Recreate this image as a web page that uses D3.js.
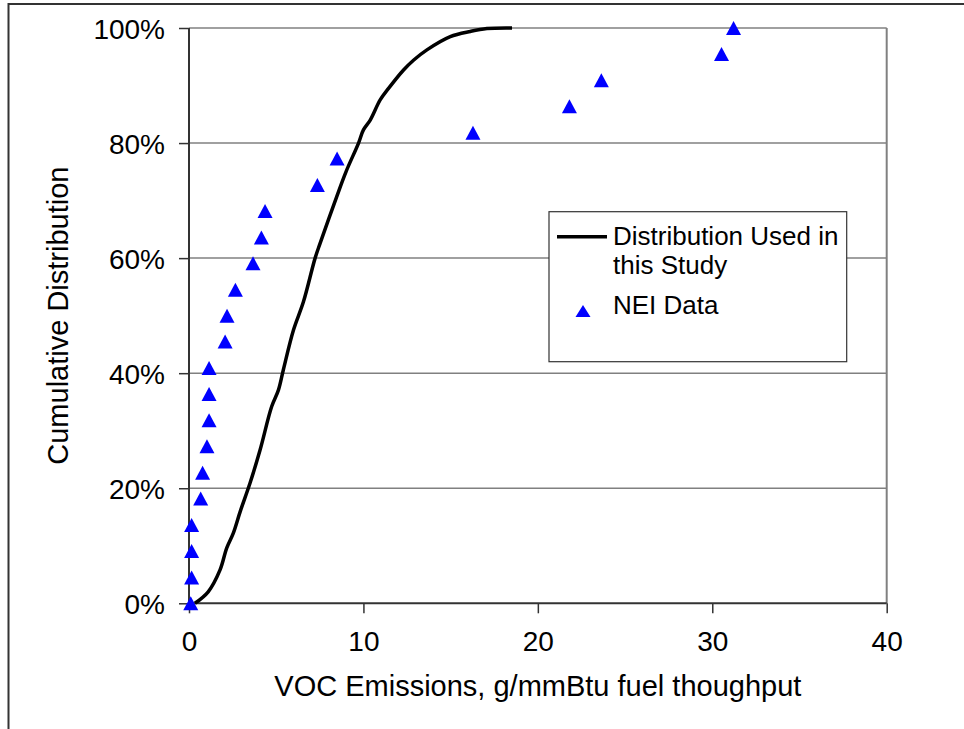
<!DOCTYPE html>
<html><head><meta charset="utf-8">
<script src="https://cdn.jsdelivr.net/npm/d3@7"></script>
<style>body{margin:0;background:#fff}svg{display:block}text{font-family:"Liberation Sans",Arial,sans-serif;fill:#000}</style>
</head><body><svg id="c" width="964" height="729"></svg>
<script>
const xTicks = [0, 10, 20, 30, 40];
const yTicks = [0, 0.2, 0.4, 0.6, 0.8, 1.0];
const curveX = [0.34,1.1,1.78,2.16,2.54,2.93,3.5,4.07,4.74,5.13,5.41,5.99,6.56,7.23,7.52,8.47,9.0,9.72,10.0,10.39,10.96,11.44,12.3,12.87,13.64,14.98,16.13,17.08,18.52];
const curveY = [0,0.02,0.058,0.096,0.122,0.159,0.209,0.266,0.342,0.371,0.406,0.475,0.524,0.60,0.626,0.707,0.75,0.80,0.823,0.84,0.875,0.895,0.927,0.944,0.962,0.985,0.994,0.999,1.0];
const neiX = [0.1,0.15,0.15,0.15,0.67,0.78,1.03,1.15,1.15,1.15,2.07,2.18,2.66,3.67,4.15,4.36,7.36,8.49,16.28,21.81,23.64,30.53,31.22];
const neiY = [0,0.045,0.091,0.136,0.182,0.227,0.273,0.318,0.364,0.409,0.455,0.50,0.545,0.591,0.636,0.682,0.727,0.773,0.818,0.864,0.909,0.955,1.0];
const legendLabels = ["Distribution Used in", "this Study", "NEI Data"];
const xTitle = "VOC Emissions, g/mmBtu fuel thoughput";
const yTitle = "Cumulative Distribution";

const svg = d3.select("#c");
const L = 189, R = 886.7, T = 28, B = 603.3;
const x = d3.scaleLinear().domain([0, 40]).range([L, R]);
const y = d3.scaleLinear().domain([0, 1]).range([B, T]);

// outer frame
svg.append("path").attr("d", `M8.5,729 V4 H964`).attr("fill","none").attr("stroke","#333").attr("stroke-width",2);

// gridlines
svg.append("g").selectAll("line").data(yTicks.filter(d=>d>0)).join("line")
  .attr("x1", L).attr("x2", R).attr("y1", d=>y(d)).attr("y2", d=>y(d))
  .attr("stroke","#808080").attr("stroke-width",1.5);
svg.append("line").attr("x1",R).attr("x2",R).attr("y1",T).attr("y2",B).attr("stroke","#808080").attr("stroke-width",2);

// axes
const xAxis = d3.axisBottom(x).tickValues(xTicks).tickSize(10).tickPadding(18).tickFormat(d3.format("d"));
const gx = svg.append("g").attr("transform",`translate(0,${B})`).call(xAxis);
const yAxis = d3.axisLeft(y).tickValues(yTicks).tickSize(10).tickPadding(14).tickFormat(d3.format(".0%"));
const gy = svg.append("g").attr("transform",`translate(${L},0)`).call(yAxis);
[gx, gy].forEach(g => {
  g.select(".domain").attr("stroke","#333").attr("stroke-width",2);
  g.selectAll(".tick line").attr("stroke","#333").attr("stroke-width",1.5);
  g.selectAll("text").attr("font-size",28).attr("font-family","Liberation Sans, Arial, sans-serif").attr("fill","#000");
});
gx.selectAll(".tick text").attr("dy","0.71em");
gy.selectAll(".tick text").attr("dy","0.36em");
gx.select(".domain").attr("d", `M${L},0H${R}`);
gy.select(".domain").attr("d", `M0,${B}V${T}`);

// curve
const line = d3.line().x(d=>x(d[0])).y(d=>y(d[1])).curve(d3.curveCatmullRom.alpha(0.5));
svg.append("path").datum(curveX.map((v,i)=>[v,curveY[i]]))
  .attr("d", line).attr("fill","none").attr("stroke","#000").attr("stroke-width",3.5).attr("stroke-linejoin","round");

// triangles (centred on their bounding box)
const triPath = (w,h) => `M0,${-h/2}L${w/2},${h/2}L${-w/2},${h/2}Z`;
svg.append("g").selectAll("path").data(neiX.map((v,i)=>[v,neiY[i]])).join("path")
  .attr("d", triPath(15,14)).attr("transform", d=>`translate(${x(d[0])},${y(d[1])})`).attr("fill","#0000ff");

// titles
svg.append("text").attr("x",(L+R)/2).attr("y",696).attr("text-anchor","middle").attr("font-size",29).text(xTitle);
svg.append("text").attr("transform",`translate(68,${(T+B)/2}) rotate(-90)`).attr("text-anchor","middle").attr("font-size",29).text(yTitle);

// legend
const lg = svg.append("g");
lg.append("rect").attr("x",549).attr("y",211.7).attr("width",297.7).attr("height",150).attr("fill","#fff").attr("stroke","#333").attr("stroke-width",1.2);
lg.append("line").attr("x1",557).attr("x2",607).attr("y1",236.7).attr("y2",236.7).attr("stroke","#000").attr("stroke-width",3.5);
lg.append("text").attr("x",613).attr("y",245).attr("font-size",26).text(legendLabels[0]);
lg.append("text").attr("x",613).attr("y",274).attr("font-size",26).text(legendLabels[1]);
lg.append("path").attr("d", triPath(15,12)).attr("transform","translate(583,311)").attr("fill","#0000ff");
lg.append("text").attr("x",613).attr("y",314).attr("font-size",26).text(legendLabels[2]);
</script></body></html>
